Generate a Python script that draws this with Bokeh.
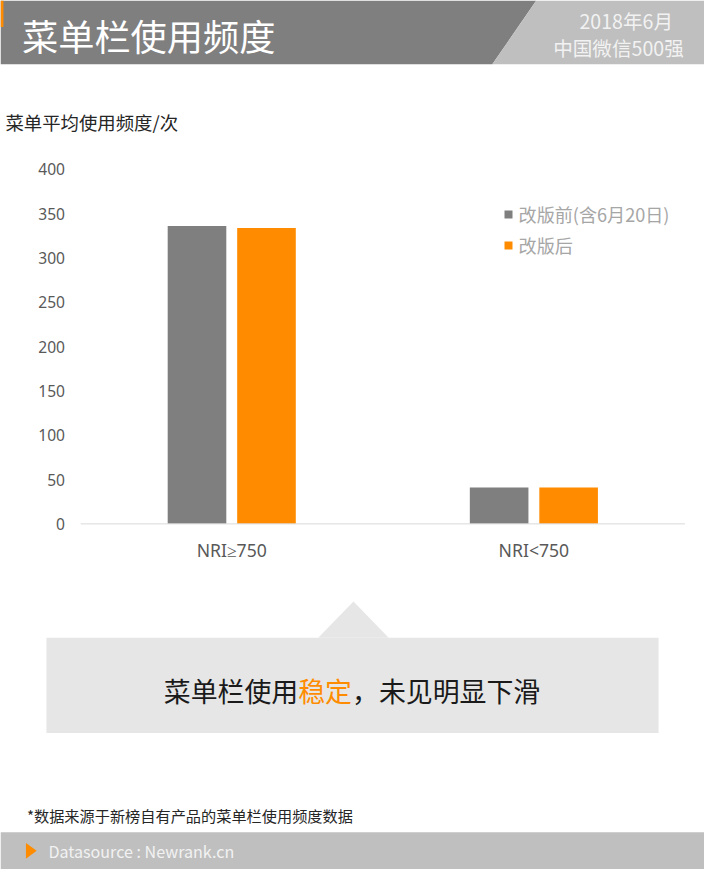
from bokeh.plotting import figure
from bokeh.models import Range1d, Legend, LegendItem, ColumnDataSource
from bokeh.transform import dodge
from bokeh.core.properties import value
from bokeh.embed import file_html
from bokeh.resources import INLINE

# ---------------- data ----------------
categories = ["NRI≥750", "NRI<750"]
series_names = ["改版前(含6月20日)", "改版后"]
before_values = [336, 41]
after_values = [334, 41]
y_ticks = [0, 50, 100, 150, 200, 250, 300, 350, 400]
title_text = "菜单栏使用频度"
date_lines = ["2018年6月", "中国微信500强"]
y_title = "菜单平均使用频度/次"
callout_parts = ["菜单栏使用", "稳定", "，未见明显下滑"]
footnote = "*数据来源于新榜自有产品的菜单栏使用频度数据"
source_text = "Datasource : Newrank.cn"

# ---------------- style / layout (design pixels, 720 x 885) ----------------
GRAY = "#7f7f7f"
ORANGE = "#ff8c00"
LIGHT = "#bfbfbf"
BOX = "#e6e6e6"
FONT = "Noto Sans CJK SC"
LATIN = "Noto Sans"
DES_W, DES_H = 720, 885
FIG_W, FIG_H = 704, 869
SX, SY = FIG_W / DES_W, FIG_H / DES_H
PLOT_L, PLOT_R = 82, 700                             # chart plot area (x)
Y0_PX, Y400_PX = 533, 172                            # pixel rows of value 0 and 400

n_cat = len(categories)
cat_pos = [i + 0.5 for i in range(n_cat)]
cat_px = (PLOT_R - PLOT_L) / n_cat
val_px = (Y0_PX - Y400_PX) / 400.0


def fsz(px):
    return f"{px * SX:.1f}px"


p = figure(width=FIG_W, height=FIG_H,
           x_range=Range1d(0, DES_W), y_range=Range1d(DES_H, 0),
           output_backend="svg", toolbar_location=None, min_border=0,
           x_axis_location=None, y_axis_location=None, outline_line_color=None)
p.grid.visible = False
# chart scales: categories along x, values along y
p.extra_x_ranges = {"cat": Range1d((0 - PLOT_L) / cat_px, (DES_W - PLOT_L) / cat_px)}
p.extra_y_ranges = {"val": Range1d((Y0_PX - DES_H) / val_px, (Y0_PX - 0) / val_px)}


def txt(x, y, text, size, color, align="left", font=FONT, **kw):
    p.text(x=x, y=y, text=text, text_font=value(font), text_font_size=fsz(size),
           text_color=color, text_align=align, text_baseline="middle", **kw)


# ---------------- header ----------------
p.patch([0, 548, 503, 0], [0, 0, 65, 65], color=GRAY, line_width=0)
p.patch([548, 720, 720, 503], [0, 0, 65, 65], color=LIGHT, line_width=0)
p.quad(left=0, right=3, top=0, bottom=27, color=ORANGE, line_width=0)
txt([22], [35], [title_text], 37, "white")
txt([640, 632], [20, 48], date_lines, 20, "#f2f2f2", "center")
txt([5], [124], [y_title], 18.8, "#262626")

# ---------------- chart ----------------
src = ColumnDataSource(dict(x=cat_pos, cat=categories, before=before_values, after=after_values))
r1 = p.vbar(x=dodge("x", -0.115), top="before", width=0.194, source=src, color=GRAY,
            line_width=0, x_range_name="cat", y_range_name="val")
r2 = p.vbar(x=dodge("x", 0.115), top="after", width=0.194, source=src, color=ORANGE,
            line_width=0, x_range_name="cat", y_range_name="val")
# baseline (value axis zero line) across the plot area
p.segment(x0=[0], x1=[n_cat], y0=[0], y1=[0], line_color="#d9d9d9", line_width=1,
          x_range_name="cat", y_range_name="val")
# value-axis tick labels
txt([66] * len(y_ticks), y_ticks, [str(t) for t in y_ticks], 16, "#595959", "right",
    font=LATIN, y_range_name="val")
# category-axis labels
txt(cat_pos, [560] * n_cat, categories, 18, "#595959", "center", font=LATIN,
    x_range_name="cat")

legend = Legend(items=[LegendItem(label=series_names[0], renderers=[r1]),
                       LegendItem(label=series_names[1], renderers=[r2])],
                location=(514 * SX, (DES_H - 263) * SY), glyph_width=10, glyph_height=10,
                label_standoff=6, label_text_font=FONT, label_text_font_size=fsz(18.5),
                label_text_color="#a6a6a6", label_height=20, padding=0, margin=0, spacing=5,
                border_line_color=None, background_fill_alpha=0)
p.add_layout(legend)

# ---------------- callout ----------------
p.patch([325, 361, 397], [649, 612, 649], color=BOX, line_width=0)
p.quad(left=47, right=673, top=649, bottom=746, color=BOX, line_width=0)
fs = 27.5
n_total = sum(len(s) for s in callout_parts)
x0 = 359.5 - n_total * fs / 2
xs, off = [], 0
for s in callout_parts:
    xs.append(x0 + off * fs)
    off += len(s)
p.text(x=xs, y=[703] * len(callout_parts), text=callout_parts,
       text_color=["#1a1a1a", ORANGE, "#1a1a1a"], text_font=value(FONT),
       text_font_size=fsz(fs), text_align="left", text_baseline="middle")

# ---------------- footnote & footer ----------------
txt([27], [830], [footnote], 15.5, "#262626")
p.quad(left=0, right=720, top=847, bottom=885, color=LIGHT, line_width=0)
p.patch([26, 37, 26], [858, 866, 874], color=ORANGE, line_width=0)
txt([49], [866], [source_text], 16.5, "#f2f2f2")

open("out.html", "w").write(file_html(p, INLINE))
